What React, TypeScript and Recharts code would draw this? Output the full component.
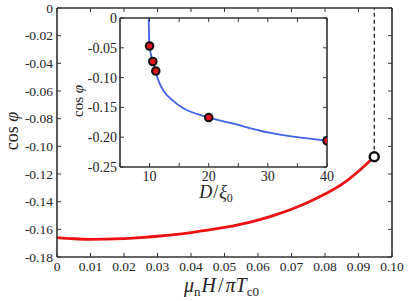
import { ComposedChart, Label, Line, XAxis, YAxis } from 'recharts'

// main panel: cos(phi) against field
const fieldH = [0, 0.005, 0.01, 0.015, 0.02, 0.025, 0.03, 0.035, 0.04, 0.045, 0.05, 0.055, 0.06, 0.065, 0.07, 0.075, 0.08, 0.085, 0.09, 0.0947]
const cosPhiH = [-0.166, -0.1668, -0.1672, -0.1671, -0.1667, -0.166, -0.165, -0.1638, -0.1623, -0.1606, -0.1586, -0.1562, -0.1533, -0.1497, -0.1455, -0.1404, -0.1345, -0.1275, -0.118, -0.1075]
const criticalH = 0.0947
const criticalCos = -0.1075
const hTicks = [0, 0.01, 0.02, 0.03, 0.04, 0.05, 0.06, 0.07, 0.08, 0.09, 0.1]
const cosTicks = [0, -0.02, -0.04, -0.06, -0.08, -0.1, -0.12, -0.14, -0.16, -0.18]

// inset: cos(phi) against thickness
const thicknessD = [9.85, 9.9, 10, 10.25, 10.55, 11, 11.5, 12.5, 14, 15.5, 18, 20, 24, 30, 35, 40]
const cosPhiD = [0, -0.025, -0.047, -0.062, -0.073, -0.089, -0.105, -0.124, -0.139, -0.15, -0.161, -0.167, -0.177, -0.192, -0.2, -0.206]
const markedD = [10, 10.55, 11.05, 20, 40]
const markedCos = [-0.047, -0.073, -0.089, -0.167, -0.206]
const dTicks = [5, 10, 15, 20, 25, 30, 35, 40]
const dLabels = [10, 20, 30, 40]
const insetCosTicks = [0, -0.05, -0.1, -0.15, -0.2, -0.25]

const serif = "'Liberation Serif', 'DejaVu Serif', serif"
const frame = { stroke: '#333', strokeWidth: 1.6 }
const tickLine = { stroke: '#333', strokeWidth: 1 }

const fmt = (v: number) => (v === 0 ? '0' : v.toFixed(2))
const blank = () => ''

// serif tick text drawn by hand, the tick object's font did not come through
const serifTick = (size: number, side: 'bottom' | 'left', format: (v: number) => string) => (props: any) => (
  <text
    x={props.x}
    y={props.y}
    dy={side === 'bottom' ? '0.71em' : '0.35em'}
    textAnchor={side === 'bottom' ? 'middle' : 'end'}
    style={{ fontFamily: serif, fontSize: size }}
    fill='#222'
  >
    {format(props.payload.value)}
  </text>
)

export default function App() {
  const redData = fieldH.map((x, i) => ({ x, y: cosPhiH[i] }))
  const dashData = [
    { x: criticalH, y: criticalCos },
    { x: criticalH, y: 0 },
  ]
  const blueData = thicknessD.map((x, i) => ({ x, y: cosPhiD[i] }))
  const markData = markedD.map((x, i) => ({ x, y: markedCos[i] }))

  return (
    <div style={{ position: 'absolute', left: 0, top: 0, width: 409, height: 301, background: '#fff' }}>
      <ComposedChart
        width={409}
        height={301}
        margin={{ top: 7, right: 16, bottom: 0, left: 0 }}
        style={{ position: 'absolute', left: 0, top: 0 }}
      >
        <XAxis
          type='number'
          dataKey='x'
          domain={[0, 0.1]}
          ticks={hTicks}
          interval={0}
          allowDataOverflow
          height={44}
          tickSize={-4}
          tickMargin={8}
          axisLine={frame}
          tickLine={tickLine}
          tick={serifTick(13.5, 'bottom', fmt)}
        >
          <Label
            content={({ viewBox }: any) => (
              <text
                x={viewBox.x + viewBox.width / 2 - 3}
                y={292}
                textAnchor='middle'
                style={{ fontFamily: serif, fontSize: 20 }}
                fill='#222'
              >
                <tspan fontStyle='italic'>μ</tspan>
                <tspan fontSize={13} dy={4}>n</tspan>
                <tspan fontStyle='italic' dy={-4} dx={1}>H</tspan>
                <tspan dx={2}>/</tspan>
                <tspan fontStyle='italic' dx={2}>πT</tspan>
                <tspan fontSize={13} dy={4}>c0</tspan>
              </text>
            )}
          />
        </XAxis>
        <XAxis
          xAxisId='top'
          orientation='top'
          type='number'
          dataKey='x'
          domain={[0, 0.1]}
          ticks={hTicks}
          interval={0}
          allowDataOverflow
          height={1}
          tickSize={-4}
          tickFormatter={blank}
          axisLine={frame}
          tickLine={tickLine}
        />
        <YAxis
          type='number'
          dataKey='y'
          domain={[-0.18, 0]}
          ticks={cosTicks}
          interval={0}
          allowDataOverflow
          width={57}
          tickSize={-4}
          tickMargin={8}
          axisLine={frame}
          tickLine={tickLine}
          tick={serifTick(13.5, 'left', fmt)}
        >
          <Label
            content={() => (
              <text
                x={12}
                y={131}
                transform='rotate(-90 12 131)'
                textAnchor='middle'
                dominantBaseline='central'
                style={{ fontFamily: serif, fontSize: 18 }}
                fill='#222'
              >
                cos <tspan fontStyle='italic'>φ</tspan>
              </text>
            )}
          />
        </YAxis>
        <YAxis
          yAxisId='right'
          orientation='right'
          type='number'
          dataKey='y'
          domain={[-0.18, 0]}
          ticks={cosTicks}
          interval={0}
          allowDataOverflow
          width={1}
          tickSize={-4}
          tickFormatter={blank}
          axisLine={frame}
          tickLine={tickLine}
        />
        {/* invisible copy so the top/right frame axes get drawn */}
        <Line
          data={redData}
          dataKey='y'
          xAxisId='top'
          yAxisId='right'
          stroke='none'
          dot={false}
          isAnimationActive={false}
        />
        <Line
          data={dashData}
          dataKey='y'
          type='linear'
          stroke='#111'
          strokeWidth={1.2}
          strokeDasharray='4 3'
          dot={false}
          isAnimationActive={false}
        />
        <Line
          data={redData}
          dataKey='y'
          type='monotone'
          stroke='#ee1111'
          strokeWidth={2.8}
          dot={false}
          isAnimationActive={false}
        />
        <Line
          data={[{ x: criticalH, y: criticalCos }]}
          dataKey='y'
          stroke='none'
          dot={{ r: 4.5, fill: '#fff', stroke: '#111', strokeWidth: 2.5 }}
          isAnimationActive={false}
        />
      </ComposedChart>

      <ComposedChart
        width={265}
        height={200}
        margin={{ top: 7, right: 7, bottom: 0, left: 0 }}
        style={{ position: 'absolute', left: 70, top: 10 }}
      >
        <XAxis
          type='number'
          dataKey='x'
          domain={[5, 40]}
          ticks={dTicks}
          interval={0}
          allowDataOverflow
          height={43}
          tickSize={-4}
          tickMargin={8}
          axisLine={frame}
          tickLine={tickLine}
          tick={serifTick(14, 'bottom', (v) => (dLabels.includes(v) ? String(v) : ''))}
        >
          <Label
            content={() => (
              <text x={146} y={188} textAnchor='middle' style={{ fontFamily: serif, fontSize: 18 }} fill='#222'>
                <tspan fontStyle='italic'>D</tspan>
                <tspan dx={1}>/</tspan>
                <tspan fontStyle='italic' dx={1}>ξ</tspan>
                <tspan fontSize={12} dy={4}>0</tspan>
              </text>
            )}
          />
        </XAxis>
        <XAxis
          xAxisId='top'
          orientation='top'
          type='number'
          dataKey='x'
          domain={[5, 40]}
          ticks={dTicks}
          interval={0}
          allowDataOverflow
          height={1}
          tickSize={-4}
          tickFormatter={blank}
          axisLine={frame}
          tickLine={tickLine}
        />
        <YAxis
          type='number'
          dataKey='y'
          domain={[-0.25, 0]}
          ticks={insetCosTicks}
          interval={0}
          allowDataOverflow
          width={50}
          tickSize={-4}
          tickMargin={7}
          axisLine={frame}
          tickLine={tickLine}
          tick={serifTick(14, 'left', fmt)}
        >
          <Label
            content={() => (
              <text
                x={8}
                y={91}
                transform='rotate(-90 8 91)'
                textAnchor='middle'
                dominantBaseline='central'
                style={{ fontFamily: serif, fontSize: 15 }}
                fill='#222'
              >
                cos <tspan fontStyle='italic'>φ</tspan>
              </text>
            )}
          />
        </YAxis>
        <YAxis
          yAxisId='right'
          orientation='right'
          type='number'
          dataKey='y'
          domain={[-0.25, 0]}
          ticks={insetCosTicks}
          interval={0}
          allowDataOverflow
          width={1}
          tickSize={-4}
          tickFormatter={blank}
          axisLine={frame}
          tickLine={tickLine}
        />
        <Line
          data={blueData}
          dataKey='y'
          xAxisId='top'
          yAxisId='right'
          stroke='none'
          dot={false}
          isAnimationActive={false}
        />
        <Line
          data={blueData}
          dataKey='y'
          type='monotone'
          stroke='#3f63e8'
          strokeWidth={1.8}
          dot={false}
          isAnimationActive={false}
        />
        <Line
          data={markData}
          dataKey='y'
          stroke='none'
          dot={{ r: 3.8, fill: '#e0141e', stroke: '#111', strokeWidth: 2 }}
          isAnimationActive={false}
        />
      </ComposedChart>
    </div>
  )
}
